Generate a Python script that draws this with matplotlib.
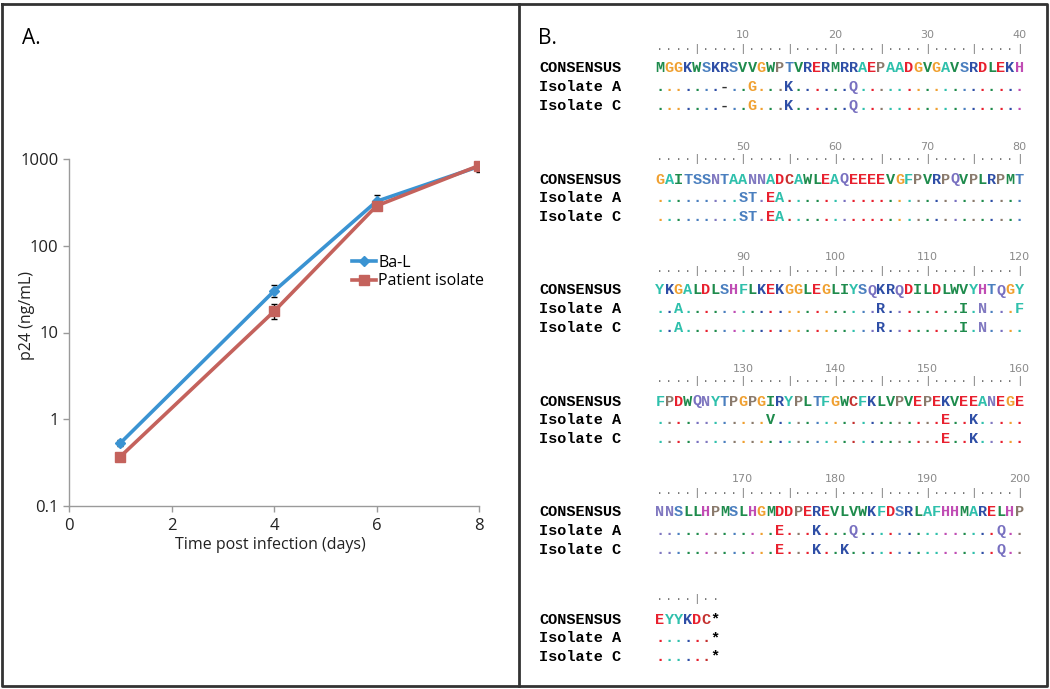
import matplotlib
matplotlib.use("Agg")
import matplotlib.pyplot as plt

# ---------------- Panel A data ----------------
days = [1, 4, 6, 8]
bal = [0.53, 30, 325, 820]
bal_err_lo = [0.04, 4, 20, 110]
bal_err_hi = [0.04, 5, 55, 30]
pat = [0.37, 17.5, 288, 840]
pat_err_lo = [0.02, 3.3, 15, 30]
pat_err_hi = [0.02, 4, 15, 30]
x_ticks = [0, 2, 4, 6, 8]
y_ticks = [0.1, 1, 10, 100, 1000]
y_tick_labels = ["0.1", "1", "10", "100", "1000"]
series_names = ["Ba-L", "Patient isolate"]

# ---------------- Panel B data ----------------
consensus_blocks = [
    "MGGKWSKRSVVGWPTVRERMRRAEPAADGVGAVSRDLEKH",
    "GAITSSNTAANNADCAWLEAQEEEEVGFPVRPQVPLRPMT",
    "YKGALDLSHFLKEKGGLEGLIYSQKRQDILDLWVYHTQGY",
    "FPDWQNYTPGPGIRYPLTFGWCFKLVPVEPEKVEEANEGE",
    "NNSLLHPMSLHGMDDPEREVLVWKFDSRLAFHHMARELHP",
    "EYYKDC*",
]
isolate_a_blocks = [
    ".......-..G...K......Q..................",
    ".........ST.EA..........................",
    "..A.....................R........I.N...F",
    "............V..................E..K.....",
    ".............E...K...Q...............Q..",
    "......*",
]
isolate_c_blocks = [
    ".......-..G...K......Q..................",
    ".........ST.EA..........................",
    "..A.....................R........I.N....",
    "...............................E..K.....",
    ".............E...K..K................Q..",
    "......*",
]
row_labels = ["CONSENSUS", "Isolate A", "Isolate C"]
block_starts = [1, 41, 81, 121, 161, 201]

aa_colors = {
    'M': '#1e8b4c', 'W': '#1e8b4c', 'V': '#1e8b4c', 'L': '#1e8b4c', 'I': '#1e8b4c',
    'G': '#f0a030',
    'K': '#2e4ea6', 'R': '#2e4ea6',
    'S': '#4a7fbf', 'T': '#4a7fbf',
    'P': '#8a7a6c',
    'E': '#e8202e', 'D': '#e8202e',
    'C': '#c4302e',
    'A': '#2fc0ac', 'F': '#2fc0ac', 'Y': '#2fc0ac',
    'H': '#c04cb4',
    'N': '#8078c0', 'Q': '#7870c0',
    '*': '#000000', '-': '#333333',
}

W, H = 1050, 689
fig = plt.figure(figsize=(W / 100, H / 100), dpi=100)
fig.patch.set_facecolor('white')

# overlay axes in pixel coordinates
ov = fig.add_axes([0, 0, 1, 1])
ov.set_xlim(0, W)
ov.set_ylim(H, 0)
ov.axis('off')

# borders
frame_col = '#333333'
ov.plot([2, 1047, 1047, 2, 2], [4, 4, 686, 686, 4], color=frame_col, lw=2, solid_capstyle='projecting')
ov.plot([519, 519], [4, 686], color=frame_col, lw=2)

ov.text(22, 38, "A.", fontsize=15, family='Open Sans', va='center', ha='left')
ov.text(538, 38, "B.", fontsize=15, family='Open Sans', va='center', ha='left')

# ---------------- Panel B drawing ----------------
mono = 'Liberation Mono'
x0 = 660.0
dx = 9.21
cons_y = [68.5, 179.5, 290.5, 401.5, 512.5, 619.5]
row_dy = 18.7

for b, cons in enumerate(consensus_blocks):
    yc = cons_y[b]
    start = block_starts[b]
    # ruler
    for i in range(len(cons)):
        pos = start + i
        x = x0 + i * dx
        if pos % 5 == 0:
            ov.text(x, yc - 20, "|", fontsize=8, family=mono, color='#777777', ha='center', va='center')
        else:
            ov.text(x, yc - 22, ".", fontsize=9, family=mono, color='#777777', ha='center', va='center')
        if pos % 10 == 0:
            ov.text(x, yc - 33, str(pos), fontsize=8, family='DejaVu Sans', color='#8a8a8a', ha='center', va='center')
    rows = [cons, isolate_a_blocks[b], isolate_c_blocks[b]]
    for r, seq in enumerate(rows):
        y = yc + r * row_dy
        ov.text(539, y, row_labels[r], fontsize=11, family=mono, weight='bold', ha='left', va='center', color='black')
        for i, ch in enumerate(seq):
            ref = cons[i]
            col = aa_colors.get(ch if ch != '.' else ref, '#000000')
            ov.text(x0 + i * dx, y, ch, fontsize=11, family=mono, weight='bold', color=col, ha='center', va='center')

# ---------------- Panel A drawing ----------------
ax = fig.add_axes([69 / W, 1 - 506 / H, 410 / W, 347 / H])
ax.set_facecolor('none')
blue = '#3a93d2'
red = '#c4625c'
ax.errorbar(days, bal, yerr=[bal_err_lo, bal_err_hi], fmt='none', ecolor='black', elinewidth=1, capsize=2.5, zorder=2)
ax.errorbar(days, pat, yerr=[pat_err_lo, pat_err_hi], fmt='none', ecolor='black', elinewidth=1, capsize=2.5, zorder=2)
ax.plot(days, bal, color=blue, lw=2.6, marker='D', ms=5, zorder=3, label=series_names[0])
ax.plot(days, pat, color=red, lw=2.6, marker='s', ms=7, zorder=3, label=series_names[1])
ax.set_yscale('log')
ax.set_ylim(0.1, 1000)
ax.set_xlim(0, 8)
ax.set_xticks(x_ticks)
ax.set_xticklabels([str(t) for t in x_ticks])
ax.set_yticks(y_ticks)
ax.set_yticklabels(y_tick_labels)
ax.minorticks_off()
for s in ['top', 'right']:
    ax.spines[s].set_visible(False)
for s in ['left', 'bottom']:
    ax.spines[s].set_color('#9a9a9a')
    ax.spines[s].set_linewidth(1)
ax.tick_params(axis='both', colors='#9a9a9a', length=4, width=1, labelcolor='#222222', labelsize=12)
ax.tick_params(axis='x', pad=5)
for lab in ax.get_xticklabels() + ax.get_yticklabels():
    lab.set_family('Open Sans')
ax.set_xlabel("Time post infection (days)", fontsize=11.5, family='Open Sans', color='#222222')
ax.xaxis.set_label_coords((270 - 69) / 410, -(545 - 506) / 347)
ax.set_ylabel("p24 (ng/mL)", fontsize=11.5, family='Open Sans', color='#222222')
ax.yaxis.set_label_coords((27 - 69) / 410, (506 - 315) / 347)
ax.xaxis.label.set_verticalalignment('center')
ax.yaxis.label.set_verticalalignment('center')
leg = ax.legend(loc='upper left', bbox_to_anchor=(352 / W, 1 - 255 / H), bbox_transform=fig.transFigure,
                frameon=False, handlelength=1.5, handletextpad=0.15, labelspacing=0.15,
                prop={'family': 'Open Sans', 'size': 11.5}, borderaxespad=0, borderpad=0)

fig.savefig("out.png", dpi=100)
